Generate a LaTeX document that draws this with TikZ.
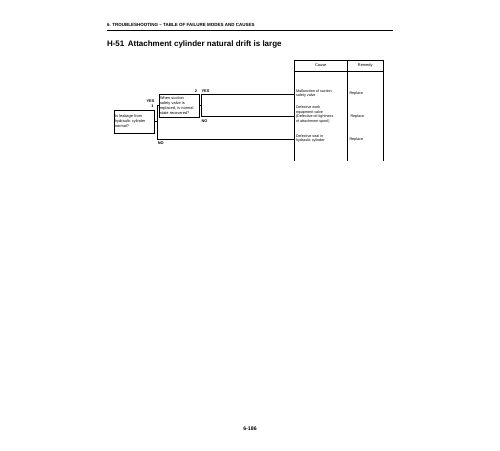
\documentclass[tikz,border=0pt]{standalone}
\usepackage{fontspec}
\setmainfont{Liberation Sans}
\newcommand\fsz[2]{\fontsize{#1}{#2}\selectfont}
\begin{document}
\begin{tikzpicture}[x=1pt,y=-1pt,
  every node/.style={inner sep=0pt, outer sep=0pt},
  conn/.style={line width=0.75pt},
  qbox/.style={draw, line width=0.65pt, align=left, font=\fsz{3.9}{5.0},
    text width=38pt, inner xsep=1pt, minimum width=40pt},
  celltxt/.style={anchor=west, align=left, font=\fsz{3.7}{4.4}},
  lbl/.style={font=\bfseries\fsz{3.9}{4.4}},
  tabline/.style={line width=0.6pt},
  ]
\useasboundingbox (0,0) rectangle (500,450);
% page header
\node[anchor=base west, font=\bfseries\fsz{4.5}{5}] (hdr) at (107,26.5) {6. TROUBLESHOOTING -- TABLE OF FAILURE MODES AND CAUSES};
\coordinate (rl) at (107,30.7);
\coordinate (rr) at (393,30.7);
\draw[line width=0.8pt] (rl) -- (rr);
\node[anchor=base west, font=\bfseries\fsz{8}{9}] (title) at (107,46) {H-51\hspace{3.5pt}Attachment cylinder natural drift is large};
% table header
\node[draw, tabline, minimum width=53.5pt, minimum height=11pt, anchor=north west, font=\fsz{3.9}{4.4}] (hc) at (294,60) {Cause};
\node[draw, tabline, minimum width=35.5pt, minimum height=11pt, anchor=north west, font=\fsz{3.9}{4.4}] (hr) at (347.5,60) {Remedy};
\coordinate (bl) at (294,161);
\coordinate (bm) at (347.5,161);
\coordinate (br) at (383,161);
\draw[tabline] (hc.south west) -- (bl);
\draw[tabline] (hr.south west) -- (bm);
\draw[tabline] (hr.south east) -- (br);
% question boxes
\node[qbox, minimum height=23pt] (b1) at (134,121.5) {Is leakage from\\hydraulic cylinder\\normal?};
\node[qbox, minimum height=22.5pt] (b2) at (179,105.7) {When suction\\safety valve is\\replaced, is normal\\state recovered?};
% junctions
\coordinate (j1t) at (157,105.7);
\coordinate (j1b) at (157,139.3);
\coordinate (j2t) at (201,94);
\coordinate (j2b) at (201,116.7);
\coordinate (t1) at (294,94);
\coordinate (t2) at (294,116.7);
\coordinate (t3) at (294,139.3);
\draw[conn] (b1.east) -- (b1.east -| j1t);
\draw[conn] (j1t) -- (j1b);
\draw[conn] (j1t) -- (b2.west);
\draw[conn] (j1b) -- (t3);
\draw[conn] (b2.east) -- (b2.east -| j2t);
\draw[conn] (j2t) -- (j2b);
\draw[conn] (j2t) -- (t1);
\draw[conn] (j2b) -- (t2);
% labels
\node[lbl] (y1) at (150.5,101) {YES};
\node[lbl] (n1) at (152.5,106.3) {1};
\node[lbl] (n2) at (196,90.7) {2};
\node[lbl] (y2) at (205.5,90.7) {YES};
\node[lbl] (no2) at (204.5,121) {NO};
\node[lbl] (no1) at (160.8,142.7) {NO};
% causes
\node[celltxt] (c1) at (296,93.5) {Malfunction of suction\\safety valve};
\node[celltxt] (c2) at (296,114.5) {Defective work\\equipment valve\\(Defective oil-tightness\\of attachment spool)};
\node[celltxt] (c3) at (296,138.7) {Defective seal in\\hydraulic cylinder};
% remedies
\node[celltxt] (r1) at (349.5,94) {Replace};
\node[celltxt] (r2) at (350.5,116.7) {Replace};
\node[celltxt] (r3) at (349.5,139.3) {Replace};
% page number
\node[font=\bfseries\fsz{5.2}{6}] (pg) at (250,429) {6-186};
\end{tikzpicture}
\end{document}
